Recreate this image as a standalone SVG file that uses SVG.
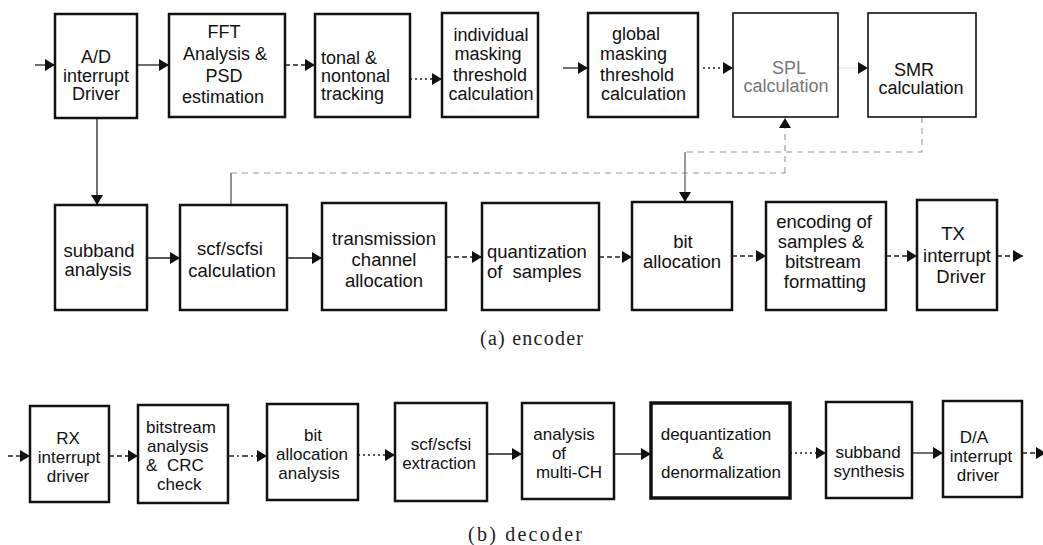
<svg xmlns="http://www.w3.org/2000/svg" width="1043" height="545" viewBox="0 0 1043 545">
<style>
.box{fill:#fff;stroke:#111;stroke-width:2.5}
.thin{stroke-width:1.6}
.thick{stroke-width:3.5}
.t{font-family:"Liberation Sans",Arial,sans-serif;font-size:18px;fill:#111;text-anchor:middle}
.m{font-size:18.5px}
.b{font-size:17px}
.s{text-anchor:start}
.cap{font-family:"Liberation Serif","Times New Roman",serif;font-size:20px;fill:#222}
.c{fill:none;stroke:#222;stroke-width:1.3}
.dash{stroke-dasharray:5 3}
.dot{stroke-dasharray:2 3}
.dd{stroke-dasharray:6 3 2 3}
.faint{stroke:#999;stroke-width:1.1;stroke-dasharray:6 5}
.ghost{stroke:#e6e6e6}
</style>
<defs>
<marker id="ah" viewBox="0 0 10 12" refX="10" refY="6" markerWidth="10" markerHeight="12" markerUnits="userSpaceOnUse" orient="auto">
<path d="M0,0 L10,6 L0,12 z" fill="#111"/>
</marker>
</defs>

<g id="connectors">
<path class="c" d="M35,65 H55" marker-end="url(#ah)"/>
<path class="c" d="M137,65 H169" marker-end="url(#ah)"/>
<path class="c dash" d="M285,65 H315" marker-end="url(#ah)"/>
<path class="c dot" d="M410,79 H442" marker-end="url(#ah)"/>
<path class="c" d="M563,68 H588" marker-end="url(#ah)"/>
<path class="c dot" d="M703,68 H733" marker-end="url(#ah)"/>
<path class="c ghost" d="M838,68 H868" marker-end="url(#ah)"/>
<path class="c" d="M97,118 V205" marker-end="url(#ah)"/>
<path class="c" d="M147,258 H180" marker-end="url(#ah)"/>
<path class="c" d="M287,258 H322" marker-end="url(#ah)"/>
<path class="c dash" d="M446,257 H482" marker-end="url(#ah)"/>
<path class="c dash" d="M599,257 H632" marker-end="url(#ah)"/>
<path class="c dash" d="M732,256 H766" marker-end="url(#ah)"/>
<path class="c dash" d="M886,256 H917" marker-end="url(#ah)"/>
<path class="c dash" d="M997,256 H1023" marker-end="url(#ah)"/>
<path class="c" style="stroke:#555" d="M231,205 V173"/>
<path class="c faint" d="M231,173 H785"/>
<path class="c faint" d="M785,173 V118" marker-end="url(#ah)"/>
<path class="c faint" d="M922,117 V152 H685"/>
<path class="c" style="stroke:#666" d="M685,152 V202" marker-end="url(#ah)"/>
<path class="c dash" d="M8,456 H30" marker-end="url(#ah)"/>
<path class="c dash" d="M109,456 H138" marker-end="url(#ah)"/>
<path class="c dd" d="M228,456 H267" marker-end="url(#ah)"/>
<path class="c dot" d="M358,455 H395" marker-end="url(#ah)"/>
<path class="c" d="M487,454 H522" marker-end="url(#ah)"/>
<path class="c" d="M614,454 H651" marker-end="url(#ah)"/>
<path class="c dot" d="M790,453 H826" marker-end="url(#ah)"/>
<path class="c" d="M912,453 H943" marker-end="url(#ah)"/>
<path class="c dash" d="M1022,453 H1046" marker-end="url(#ah)"/>
</g>

<g id="ad"><rect class="box" x="55" y="14" width="82" height="104"/>
<text class="t"><tspan x="96" y="63">A/D</tspan><tspan x="96" y="82">interrupt</tspan><tspan x="96" y="100">Driver</tspan></text></g>
<g id="fft"><rect class="box" x="169" y="14" width="116" height="103"/>
<text class="t"><tspan x="224" y="38">FFT</tspan><tspan x="225" y="60">Analysis &amp;</tspan><tspan x="224" y="82">PSD</tspan><tspan x="223" y="103">estimation</tspan></text></g>
<g id="tonal"><rect class="box" x="315" y="14" width="95" height="103"/>
<text class="t s"><tspan x="321" y="64">tonal &amp;</tspan><tspan x="321" y="82">nontonal</tspan><tspan x="321" y="100">tracking</tspan></text></g>
<g id="indiv"><rect class="box" x="442" y="13" width="96" height="104"/>
<text class="t"><tspan x="491" y="41">individual</tspan><tspan x="488" y="60">masking</tspan><tspan x="490" y="81">threshold</tspan><tspan x="491" y="100">calculation</tspan></text></g>
<g id="global"><rect class="box" x="588" y="13" width="110" height="104"/>
<text class="t s"><tspan x="612" y="40">global</tspan><tspan x="600" y="60">masking</tspan><tspan x="600" y="81">threshold</tspan><tspan x="601" y="100">calculation</tspan></text></g>
<g id="spl"><rect class="box thin" x="733" y="13" width="105" height="104"/>
<text class="t" style="fill:#777"><tspan x="789" y="74">SPL</tspan><tspan x="786" y="92">calculation</tspan></text></g>
<g id="smr"><rect class="box thin" x="868" y="13" width="108" height="104"/>
<text class="t"><tspan x="914" y="76">SMR</tspan><tspan x="921" y="94">calculation</tspan></text></g>

<g id="subband"><rect class="box" x="55" y="205" width="92" height="105"/>
<text class="t m"><tspan x="99" y="257">subband</tspan><tspan x="98" y="276">analysis</tspan></text></g>
<g id="scf"><rect class="box" x="180" y="205" width="107" height="105"/>
<text class="t m"><tspan x="230" y="255">scf/scfsi</tspan><tspan x="232" y="277">calculation</tspan></text></g>
<g id="trans"><rect class="box" x="322" y="203" width="124" height="107"/>
<text class="t m"><tspan x="384" y="245">transmission</tspan><tspan x="384" y="266">channel</tspan><tspan x="384" y="287">allocation</tspan></text></g>
<g id="quant"><rect class="box" x="482" y="203" width="117" height="107"/>
<text class="t m s"><tspan x="487" y="258">quantization</tspan><tspan x="487" y="278" word-spacing="5">of samples</tspan></text></g>
<g id="bitalloc"><rect class="box" x="632" y="202" width="100" height="108"/>
<text class="t m"><tspan x="683" y="248">bit</tspan><tspan x="682" y="268">allocation</tspan></text></g>
<g id="enc"><rect class="box" x="766" y="202" width="120" height="108"/>
<text class="t m"><tspan x="824" y="228">encoding of</tspan><tspan x="821" y="248">samples &amp;</tspan><tspan x="823" y="268">bitstream</tspan><tspan x="825" y="288">formatting</tspan></text></g>
<g id="tx"><rect class="box" x="917" y="200" width="80" height="110"/>
<text class="t m"><tspan x="953" y="240">TX</tspan><tspan x="957" y="262">interrupt</tspan><tspan x="961" y="283">Driver</tspan></text></g>

<text class="cap" x="480" y="345" textLength="103" lengthAdjust="spacing">(a) encoder</text>

<g id="rx"><rect class="box" x="30" y="406" width="79" height="96"/>
<text class="t b"><tspan x="68" y="444">RX</tspan><tspan x="69" y="463">interrupt</tspan><tspan x="68" y="482">driver</tspan></text></g>
<g id="bs"><rect class="box" x="138" y="405" width="90" height="98"/>
<text class="t b s"><tspan x="146" y="433">bitstream</tspan><tspan x="147" y="452">analysis</tspan><tspan x="146" y="471" word-spacing="5">&amp; CRC</tspan><tspan x="157" y="490">check</tspan></text></g>
<g id="ba"><rect class="box" x="267" y="404" width="91" height="96"/>
<text class="t b"><tspan x="313" y="441">bit</tspan><tspan x="312" y="460">allocation</tspan><tspan x="309" y="479">analysis</tspan></text></g>
<g id="scfx"><rect class="box" x="395" y="403" width="92" height="98"/>
<text class="t b"><tspan x="441" y="450">scf/scfsi</tspan><tspan x="439" y="469">extraction</tspan></text></g>
<g id="multi"><rect class="box" x="522" y="403" width="92" height="96"/>
<text class="t b"><tspan x="564" y="440">analysis</tspan><tspan x="559" y="459">of</tspan><tspan x="569" y="478">multi-CH</tspan></text></g>
<g id="deq"><rect class="box thick" x="651" y="403" width="139" height="95"/>
<text class="t b"><tspan x="716" y="440">dequantization</tspan><tspan x="718" y="459">&amp;</tspan><tspan x="721" y="478">denormalization</tspan></text></g>
<g id="syn"><rect class="box" x="826" y="402" width="86" height="96"/>
<text class="t b"><tspan x="868" y="458">subband</tspan><tspan x="869" y="477">synthesis</tspan></text></g>
<g id="da"><rect class="box" x="943" y="401" width="79" height="96"/>
<text class="t b"><tspan x="974" y="443">D/A</tspan><tspan x="981" y="462">interrupt</tspan><tspan x="978" y="481">driver</tspan></text></g>

<text class="cap" x="468" y="541" textLength="114" lengthAdjust="spacing">(b) decoder</text>
</svg>
